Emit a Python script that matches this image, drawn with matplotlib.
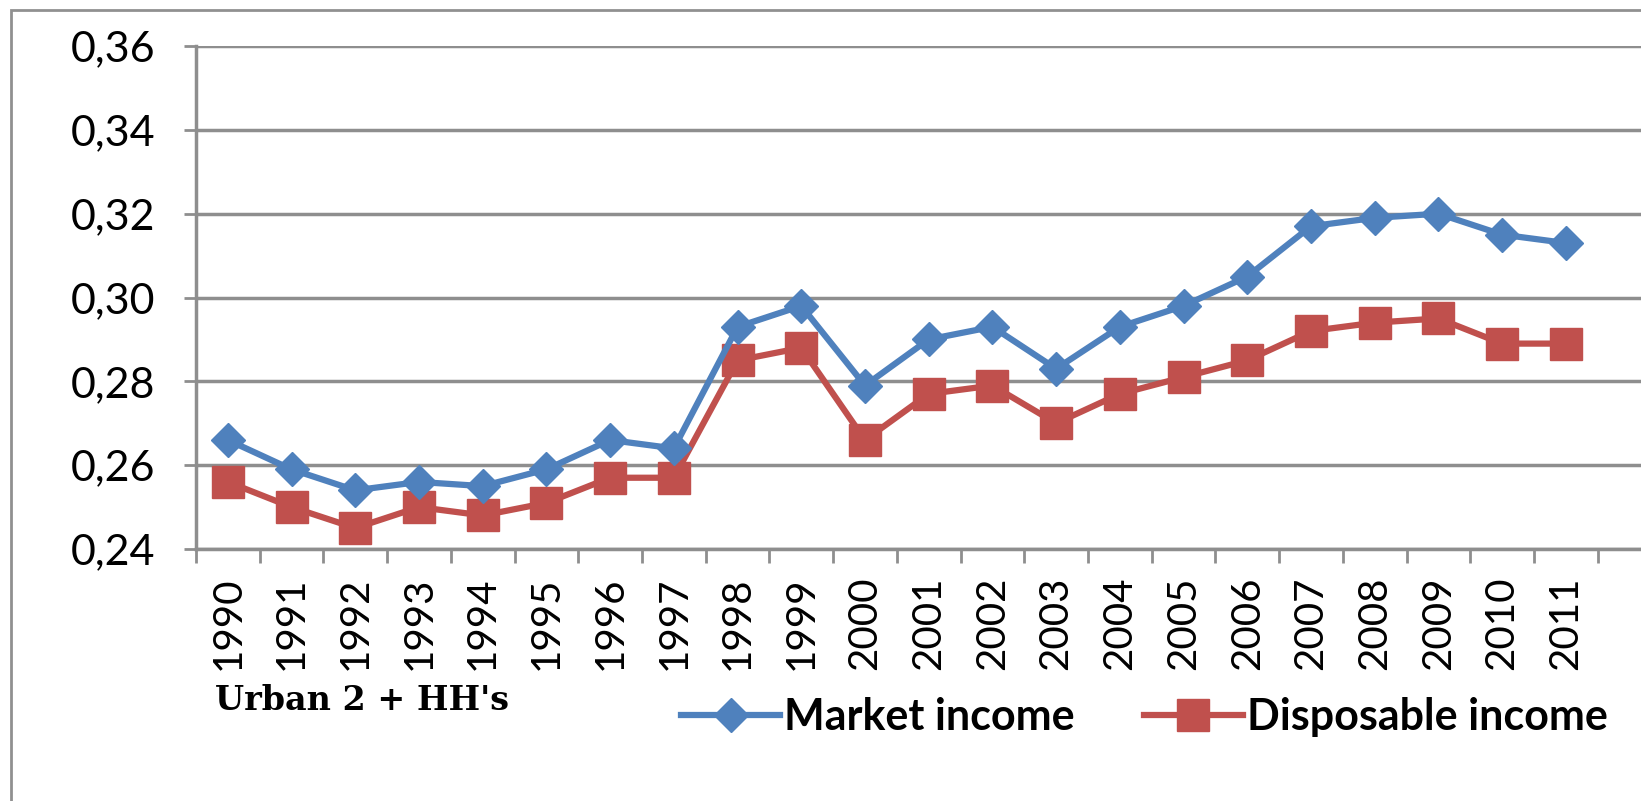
import matplotlib.pyplot as plt
from matplotlib.patches import Rectangle
from matplotlib.ticker import FixedLocator

# Data
years = [str(y) for y in range(1990, 2012)]
market_income = [0.266, 0.259, 0.254, 0.256, 0.255, 0.259, 0.266, 0.264, 0.293, 0.298, 0.279,
                 0.290, 0.293, 0.283, 0.293, 0.298, 0.305, 0.317, 0.319, 0.320, 0.315, 0.313]
disposable_income = [0.256, 0.250, 0.245, 0.250, 0.248, 0.251, 0.257, 0.257, 0.285, 0.288, 0.266,
                     0.277, 0.279, 0.270, 0.277, 0.281, 0.285, 0.292, 0.294, 0.295, 0.289, 0.289]
y_ticks = [0.24, 0.26, 0.28, 0.30, 0.32, 0.34, 0.36]

plt.rcParams['font.family'] = ['Lato', 'DejaVu Sans']

W, H = 1641, 801
fig = plt.figure(figsize=(W / 100, H / 100), dpi=100)
ax = fig.add_axes([196 / W, 1 - 549 / H, 1 - 196 / W, (549 - 46) / H])

blue = '#4F81BD'
red = '#C0504D'
grid_col = '#8E8E8E'

x = list(range(len(years)))
ax.plot(x, market_income, color=blue, lw=4.5, marker='D', ms=17, label='Market income', zorder=4)
ax.plot(x, disposable_income, color=red, lw=4.5, marker='s', ms=23, label='Disposable income', zorder=3)

ax.set_ylim(0.24, 0.36)
ax.set_xlim(-0.5, 22.18)
ax.set_yticks(y_ticks)
ax.set_yticklabels([f'{v:.2f}'.replace('.', ',') for v in y_ticks], fontsize=31)
ax.set_xticks(x)
ax.set_xticklabels(years, rotation=90, fontsize=29)
ax.xaxis.set_minor_locator(FixedLocator([i - 0.5 for i in range(len(years) + 1)]))
ax.tick_params(axis='x', which='major', length=0, pad=20)
ax.tick_params(axis='x', which='minor', length=10, width=2, color=grid_col, direction='out')
ax.tick_params(axis='y', length=9, width=2, color=grid_col, pad=20)

ax.grid(axis='y', color=grid_col, lw=2.5)
ax.set_axisbelow(True)
for s in ['top', 'right']:
    ax.spines[s].set_visible(False)
for s in ['left', 'bottom']:
    ax.spines[s].set_color(grid_col)
    ax.spines[s].set_linewidth(2.5)

# outer chart frame
fig.patches.append(Rectangle((11 / W, -0.05), 1.1, 1 - 10 / H + 0.05, transform=fig.transFigure,
                             fill=False, edgecolor='#909090', lw=2))

fig.text(215 / W, 1 - 700 / H, "Urban 2 + HH's", family='DejaVu Serif', weight='bold',
         fontsize=24, va='center', ha='left')

fig.legend(loc='center', bbox_to_anchor=(0.6975, 1 - 717 / H), ncol=2, frameon=False,
           handlelength=2.3, handletextpad=0.1, columnspacing=1.6,
           prop={'family': ['Lato', 'DejaVu Sans'], 'weight': 'bold', 'size': 31})

fig.savefig('out.png', dpi=100)
